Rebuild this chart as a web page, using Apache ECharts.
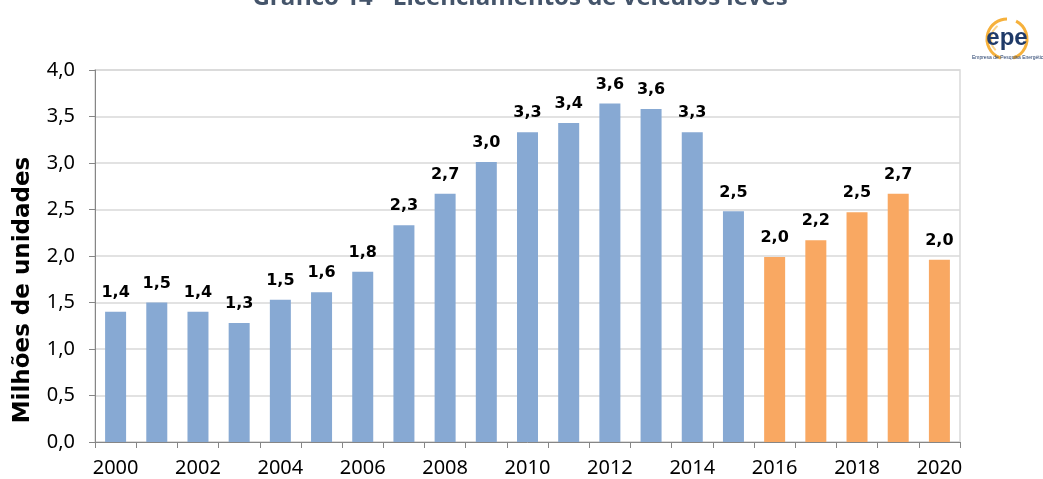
<!DOCTYPE html>
<html>
<head>
<meta charset="utf-8">
<script src="https://cdn.jsdelivr.net/npm/echarts@6/dist/echarts.min.js"></script>
<style>
  html, body { margin: 0; padding: 0; background: #fff; }
  #chart { width: 1043px; height: 479px; }
</style>
</head>
<body>
<div id="chart"></div>
<script>
// anos e licenciamentos (milhões de unidades)
const years = ['2000', '2001', '2002', '2003', '2004', '2005', '2006', '2007', '2008', '2009', '2010',
  '2011', '2012', '2013', '2014', '2015', '2016', '2017', '2018', '2019', '2020']
const historico = [1.40, 1.50, 1.40, 1.28, 1.53, 1.61, 1.83, 2.33, 2.67, 3.01, 3.33,
  3.43, 3.64, 3.58, 3.33, 2.48, null, null, null, null, null]
const projecao = [null, null, null, null, null, null, null, null, null, null, null,
  null, null, null, null, null, 1.99, 2.17, 2.47, 2.67, 1.96]
const yTicks = [0, 0.5, 1, 1.5, 2, 2.5, 3, 3.5, 4]

const fmt = v => v.toFixed(1).replace('.', ',')

const chart = echarts.init(document.getElementById('chart'))

const labelStyle = {
  show: true,
  position: 'top',
  distance: 11,
  color: '#000',
  fontFamily: 'DejaVu Sans',
  fontWeight: 'bold',
  fontSize: 16,
  formatter: p => fmt(p.value)
}

const option = {
  animation: false,
  grid: {
    left: 95, right: 83, top: 70, bottom: 37,
    show: true, borderColor: '#d9d9d9', borderWidth: 1.5
  },
  xAxis: {
    type: 'category',
    data: years,
    boundaryGap: true,
    axisLine: { lineStyle: { color: '#868686', width: 1 } },
    axisTick: { show: true, interval: 0, length: 6, lineStyle: { color: '#868686' } },
    axisLabel: {
      interval: 1,
      color: '#000',
      fontFamily: 'Noto Sans',
      fontSize: 20,
      margin: 16
    }
  },
  yAxis: {
    type: 'value',
    min: 0, max: 4, interval: 0.5,
    axisLine: { show: true, lineStyle: { color: '#868686', width: 1 } },
    axisTick: { show: true, length: 6, lineStyle: { color: '#868686' } },
    splitLine: { lineStyle: { color: '#d9d9d9', width: 1.5 } },
    axisLabel: {
      color: '#000',
      fontFamily: 'Noto Sans',
      fontSize: 20,
      margin: 20,
      formatter: v => yTicks.includes(v) ? fmt(v) : ''
    }
  },
  series: [
    {
      name: 'Histórico',
      type: 'bar',
      data: historico,
      barWidth: 21,
      barGap: '-100%',
      itemStyle: { color: '#87a9d3' },
      label: labelStyle
    },
    {
      name: 'Projeção',
      type: 'bar',
      data: projecao,
      barWidth: 21,
      barGap: '-100%',
      itemStyle: { color: '#f9a862' },
      label: labelStyle
    }
  ],
  graphic: [
    {
      type: 'text',
      x: 520,
      y: -2,
      style: {
        text: 'Gráfico 14 - Licenciamentos de veículos leves',
        align: 'center',
        verticalAlign: 'middle',
        fill: '#44546a',
        font: 'bold 24px "Open Sans", "Liberation Sans", sans-serif'
      }
    },
    // título do eixo y
    {
      type: 'text',
      x: 23,
      y: 290,
      rotation: Math.PI / 2,
      style: {
        text: 'Milhões de unidades',
        align: 'center',
        verticalAlign: 'middle',
        fill: '#000',
        font: 'bold 23px "DejaVu Sans", sans-serif'
      }
    },
    // logo epe
    {
      type: 'group',
      x: 975,
      y: 20,
      children: [
        { type: 'arc', shape: { cx: 32, cy: 19, r: 20, startAngle: Math.PI * 0.6, endAngle: Math.PI * 1.5 },
          style: { stroke: '#f6b13c', lineWidth: 3, fill: null } },
        { type: 'arc', shape: { cx: 32, cy: 19, r: 20, startAngle: -Math.PI * 0.35, endAngle: Math.PI * 0.4 },
          style: { stroke: '#f6b13c', lineWidth: 3, fill: null } },
        { type: 'arc', shape: { cx: 32, cy: 19, r: 16, startAngle: Math.PI * 0.75, endAngle: Math.PI * 1.3 },
          style: { stroke: '#fad58e', lineWidth: 2, fill: null } },
        { type: 'text', style: { x: 32, y: 18, text: 'epe', align: 'center', verticalAlign: 'middle',
          fill: '#1f3a68', font: 'bold 24px "Liberation Sans", sans-serif' } },
        { type: 'text', style: { x: 34, y: 38, text: 'Empresa de Pesquisa Energética', align: 'center',
          verticalAlign: 'middle', fill: '#1f3a68', font: '5px "Liberation Sans", sans-serif' } }
      ]
    }
  ]
}

chart.setOption(option)
</script>
</body>
</html>
